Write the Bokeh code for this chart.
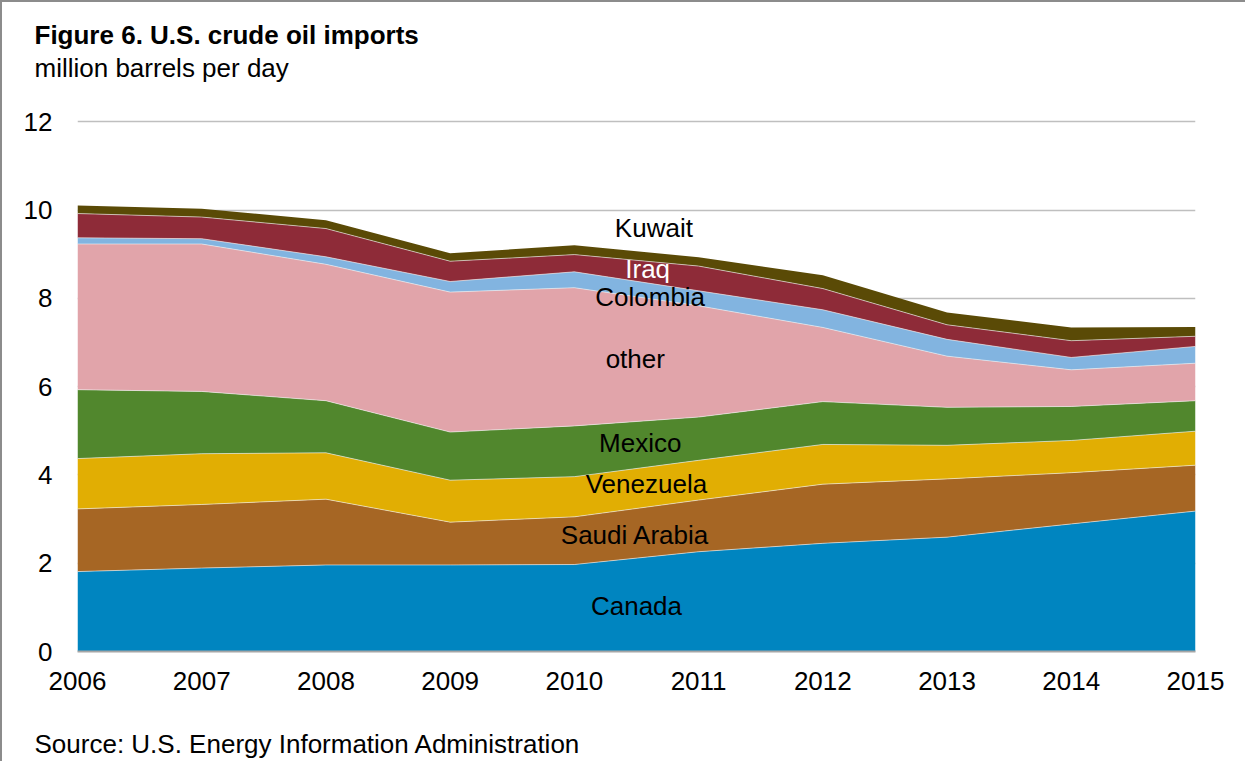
from bokeh.plotting import figure
from bokeh.models import Title, FixedTicker, Range1d, ColumnDataSource, NumeralTickFormatter
from bokeh.core.properties import value
from bokeh.embed import file_html
from bokeh.resources import INLINE
import numpy as np

years = [2006, 2007, 2008, 2009, 2010, 2011, 2012, 2013, 2014, 2015]
canada = [1.81, 1.89, 1.96, 1.96, 1.97, 2.26, 2.45, 2.59, 2.89, 3.18]
saudi_arabia = [1.42, 1.44, 1.49, 0.97, 1.08, 1.17, 1.34, 1.32, 1.16, 1.04]
venezuela = [1.14, 1.15, 1.05, 0.95, 0.91, 0.90, 0.90, 0.76, 0.73, 0.77]
mexico = [1.56, 1.41, 1.18, 1.09, 1.15, 0.98, 0.97, 0.86, 0.77, 0.69]
other = [3.30, 3.34, 3.09, 3.17, 3.13, 2.52, 1.68, 1.16, 0.83, 0.85]
colombia = [0.14, 0.12, 0.17, 0.24, 0.36, 0.34, 0.40, 0.38, 0.28, 0.38]
iraq = [0.55, 0.49, 0.64, 0.46, 0.39, 0.56, 0.48, 0.33, 0.38, 0.23]
kuwait = [0.18, 0.19, 0.19, 0.18, 0.21, 0.20, 0.30, 0.28, 0.30, 0.21]

series_names = ["Canada", "Saudi Arabia", "Venezuela", "Mexico", "other", "Colombia", "Iraq", "Kuwait"]
series_values = [canada, saudi_arabia, venezuela, mexico, other, colombia, iraq, kuwait]
colors = ["#0085C0", "#A66624", "#E1AE03", "#51872D", "#E1A4AA", "#82B4E0", "#8E2B38", "#5A4A06"]
y_ticks = [0, 2, 4, 6, 8, 10, 12]

data = {"year": years}
for n, v in zip(series_names, series_values):
    data[n] = v
source = ColumnDataSource(data)

FONT = "Liberation Sans"
FS = "26px"

p = figure(width=1245, height=761, x_range=Range1d(2006, 2015), y_range=Range1d(0, 12.05),
           output_backend="svg", toolbar_location=None,
           min_border_left=75, min_border_right=52, min_border_top=117, min_border_bottom=112,
           styles={"border-left": "2px solid #8c8c8c", "border-top": "2px solid #8c8c8c"})

p.varea_stack(stackers=series_names, x="year", color=colors, source=source)

cum = np.cumsum(np.array(series_values), axis=0)
for row in cum[:-1]:
    p.line(years, row, line_color="#f2f2f2", line_alpha=0.6, line_width=1)

p.outline_line_color = None
p.background_fill_color = "white"
p.border_fill_color = "white"
p.xgrid.visible = False
p.ygrid.grid_line_color = "#bfbfbf"
p.ygrid.grid_line_width = 1.5
p.yaxis.ticker = FixedTicker(ticks=y_ticks)
p.xaxis.ticker = FixedTicker(ticks=years)
p.xaxis.formatter = NumeralTickFormatter(format="0")
for ax in (p.xaxis, p.yaxis):
    ax.major_tick_line_color = None
    ax.minor_tick_line_color = None
    ax.major_tick_out = 0
    ax.major_tick_in = 0
    ax.major_label_text_font = FONT
    ax.major_label_text_font_size = FS
    ax.major_label_text_color = "black"
p.yaxis.axis_line_color = None
p.yaxis.major_label_standoff = 25
p.xaxis.axis_line_color = "#a6a6a6"
p.xaxis.axis_line_width = 2
p.xaxis.major_label_standoff = 20

# series labels
label_x = [2010.50, 2010.49, 2010.58, 2010.53, 2010.49, 2010.61, 2010.59, 2010.64]
label_y = [1.04, 2.64, 3.79, 4.72, 6.63, 8.03, 8.66, 9.59]
label_colors = ["black", "black", "black", "black", "black", "black", "white", "black"]
p.text(x=label_x, y=label_y, text=series_names, text_align="center", text_baseline="middle",
       text_font=value(FONT), text_font_size=FS, text_color=label_colors)

# titles above (first added = closest to the frame)
p.add_layout(Title(text=" ", text_font_size="1px", standoff=34), "above")
p.add_layout(Title(text="million barrels per day", align="left", offset=-43, standoff=0,
                   text_font=FONT, text_font_size=FS, text_font_style="normal",
                   text_color="black", vertical_align="bottom"), "above")
p.add_layout(Title(text="Figure 6. U.S. crude oil imports", align="left", offset=-43, standoff=2,
                   text_font=FONT, text_font_size=FS, text_font_style="bold",
                   text_color="black", vertical_align="bottom"), "above")
# source below
p.add_layout(Title(text=" ", text_font_size="1px", standoff=33), "below")
p.add_layout(Title(text="Source: U.S. Energy Information Administration", align="left", offset=-43,
                   standoff=0, text_font=FONT, text_font_size=FS, text_font_style="normal",
                   text_color="black", vertical_align="top"), "below")

open("out.html", "w").write(file_html(p, INLINE))
